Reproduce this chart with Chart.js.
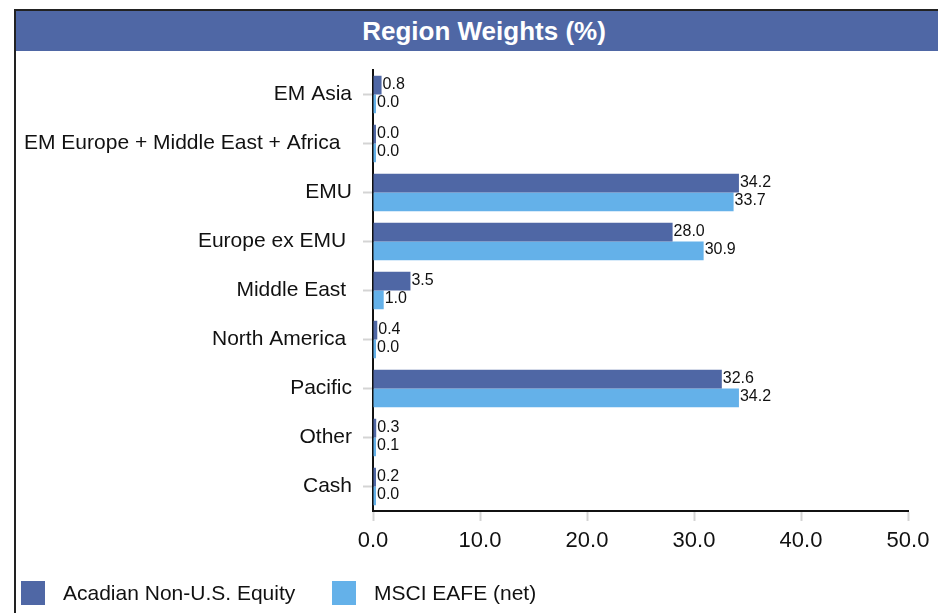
<!DOCTYPE html>
<html>
<head>
<meta charset="utf-8">
<script src="https://cdn.jsdelivr.net/npm/chart.js@4"></script>
<style>
    html, body { margin: 0; padding: 0; background: #fff; overflow: hidden; }
    body { width: 938px; height: 613px; position: relative; font-family: "Liberation Sans", Arial, sans-serif; }
    #frame {
        position: absolute; left: 14px; top: 9px; width: 960px; height: 620px;
        border-left: 2px solid #222; border-top: 2px solid #222;
    }
    #title {
        position: absolute; left: 0; top: 0; width: 936px; height: 40px;
        background: #4f67a5; color: #fff; font-weight: bold; font-size: 26px;
        line-height: 40px; text-align: center;
    }
    #chart { position: absolute; left: 0; top: 0; }
    .legend-item { position: absolute; top: 581px; height: 24px; font-size: 21px; line-height: 24px; color: #111; }
    .legend-box { position: absolute; top: 0; width: 24px; height: 24px; }
</style>
</head>
<body>
<div id="frame"><div id="title">Region Weights (%)</div></div>
<canvas id="chart" width="938" height="613"></canvas>
<div id="legend"></div>

<script>
// ====== DADOS ======
const categories = ['EM Asia', 'EM Europe + Middle East + Africa  ', 'EMU', 'Europe ex EMU ', 'Middle East ',
    'North America ', 'Pacific', 'Other', 'Cash'];
const acadian = [0.8, 0.0, 34.2, 28.0, 3.5, 0.4, 32.6, 0.3, 0.2];
const msci = [0.0, 0.0, 33.7, 30.9, 1.0, 0.0, 34.2, 0.1, 0.0];
const seriesNames = ['Acadian Non-U.S. Equity', 'MSCI EAFE (net)'];
const xTicks = [0, 10, 20, 30, 40, 50];

const colors = ['#4f67a5', '#64b1e9'];
const fontFamily = '"Liberation Sans", Arial, sans-serif';

// ====== LEGENDA (HTML) ======
const legendEl = document.getElementById('legend');
const legendX = [21, 332];
seriesNames.forEach((name, i) => {
    const item = document.createElement('div');
    item.className = 'legend-item';
    item.style.left = legendX[i] + 'px';
    item.innerHTML = '<div class="legend-box" style="left:0;background:' + colors[i] + '"></div>' +
        '<span style="position:absolute;left:42px;white-space:nowrap">' + name + '</span>';
    legendEl.appendChild(item);
});

// rótulos de valor no fim das barras
const valueLabels = {
    id: 'valueLabels',
    afterDatasetsDraw(chart) {
        const ctx = chart.ctx;
        ctx.save();
        ctx.font = '16px ' + fontFamily;
        ctx.fillStyle = '#111';
        ctx.textAlign = 'left';
        ctx.textBaseline = 'middle';
        chart.data.datasets.forEach((ds, i) => {
            chart.getDatasetMeta(i).data.forEach((bar, j) => {
                ctx.fillText(ds.data[j].toFixed(1), Math.max(bar.x, chart.chartArea.left + 2) + 1, bar.y - 1);
            });
        });
        ctx.restore();
    }
};

new Chart(document.getElementById('chart'), {
    type: 'bar',
    data: {
        labels: categories,
        datasets: [
            { label: seriesNames[0], data: acadian, backgroundColor: colors[0] },
            { label: seriesNames[1], data: msci, backgroundColor: colors[1] }
        ]
    },
    options: {
        indexAxis: 'y',
        responsive: false,
        animation: false,
        categoryPercentage: 0.765,
        barPercentage: 1,
        minBarLength: 3,
        layout: { padding: { top: 70, right: 30, left: 0, bottom: 0 } },
        plugins: {
            legend: { display: false },
            tooltip: { enabled: false }
        },
        scales: {
            x: {
                min: 0,
                max: 50,
                afterBuildTicks: (scale) => { scale.ticks = xTicks.map(v => ({ value: v })); },
                afterFit: (scale) => { scale.height = 102; },
                ticks: {
                    callback: (v) => Number(v).toFixed(1),
                    font: { family: fontFamily, size: 22 },
                    color: '#111',
                    padding: 7
                },
                grid: { drawOnChartArea: false, tickLength: 10, tickColor: '#d4d4d4', tickWidth: 2 },
                border: { color: '#111', width: 2 }
            },
            y: {
                afterFit: (scale) => { scale.width = 373; },
                ticks: {
                    font: { family: fontFamily, size: 21 },
                    color: '#111',
                    padding: 11
                },
                grid: { offset: false, drawOnChartArea: false, tickLength: 10, tickColor: '#d4d4d4', tickWidth: 2 },
                border: { color: '#111', width: 2 }
            }
        }
    },
    plugins: [valueLabels]
});
</script>
</body>
</html>
